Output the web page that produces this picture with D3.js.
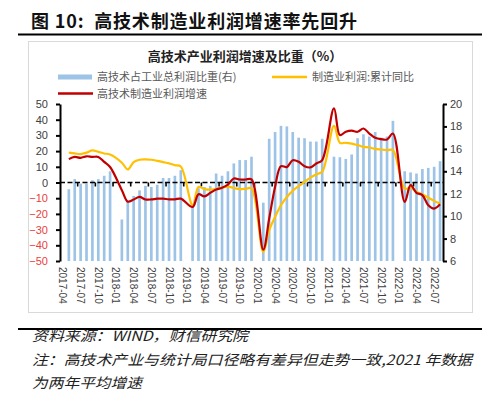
<!DOCTYPE html>
<html>
<head>
<meta charset="utf-8">
<script src="https://cdn.jsdelivr.net/npm/d3@7"></script>
<style>
  body { margin: 0; background: #fff; }
  svg { display: block; }
</style>
</head>
<body>
<svg id="chart" width="500" height="404"></svg>
<script>
// monthly categories, 2017-04 .. 2022-08
const months = [
  "2017-04","2017-05","2017-06","2017-07","2017-08","2017-09","2017-10","2017-11","2017-12",
  "2018-01","2018-02","2018-03","2018-04","2018-05","2018-06","2018-07","2018-08","2018-09","2018-10","2018-11","2018-12",
  "2019-01","2019-02","2019-03","2019-04","2019-05","2019-06","2019-07","2019-08","2019-09","2019-10","2019-11","2019-12",
  "2020-01","2020-02","2020-03","2020-04","2020-05","2020-06","2020-07","2020-08","2020-09","2020-10","2020-11","2020-12",
  "2021-01","2021-02","2021-03","2021-04","2021-05","2021-06","2021-07","2021-08","2021-09","2021-10","2021-11","2021-12",
  "2022-01","2022-02","2022-03","2022-04","2022-05","2022-06","2022-07","2022-08"
];

const tickLabels = [
  "2017-04","2017-07","2017-10","2018-01","2018-04","2018-07","2018-10",
  "2019-01","2019-04","2019-07","2019-10","2020-01","2020-04","2020-07",
  "2020-10","2021-01","2021-04","2021-07","2021-10","2022-01","2022-04","2022-07"
];

// 高技术占工业总利润比重 (right axis, %)
const shareHiTech = [
  null, 12.4, 13.3, 12.9, 12.9, 13.2, 13.3, 13.6, 14.0,
  null, 9.7, 11.4, 11.8, 12.3, 12.7, 12.6, 12.8, 13.4, 13.4, 13.6, 14.1,
  null, 11.0, 12.5, 12.6, 12.7, 13.8, 13.6, 14.0, 14.7, 15.0, 15.0, 15.3,
  null, 11.2, 16.9, 17.5, 18.05, 18.0, 17.5, 17.0, 16.95, 16.65, 16.65, 16.9,
  null, 15.3, 15.25, 15.1, 15.5, 16.95, 17.3, 17.1, 17.5, 17.0, 17.1, 18.5,
  null, 14.0, 13.9, 13.8, 14.2, 14.3, 14.4, 14.9
];

// 制造业利润:累计同比 (left axis, %)
const mfgProfit = [
  null, 19.0, 18.5, 18.1, 19.0, 20.4, 19.5, 18.5, 17.8,
  null, 12.6, 8.3, 13.0, 14.5, 14.7, 14.5, 13.8, 13.0, 12.2, 11.0, 10.2,
  null, -14.5, -2.8, -4.2, -4.5, -4.0, -3.3, -2.6, -3.5, -4.2, -4.0, -3.8,
  null, -44.3, -30.4, -21.9, -14.5, -9.2, -5.3, -2.3, 0.4, 3.1, 5.3, 6.8,
  null, 36.1, 25.3, 25.3, 24.8, 23.8, 22.7, 22.3, 21.4, 21.0, 20.6, 20.6,
  null, -3.9, -3.2, -6.0, -7.5, -9.6, -11.7, -13.4
];

// 高技术制造业利润增速 (left axis, %)
const hiTechProfit = [
  null, 14.9, 16.3, 15.7, 16.7, 16.3, 16.3, 13.1, 9.9,
  null, -4.9, -12.2, -10.8, -9.2, -10.8, -10.8, -10.3, -10.3, -10.7, -10.7, -10.3,
  null, -15.6, -7.5, -8.8, -6.6, -4.5, -3.3, -1.3, 2.5, 1.9, 1.9, 2.0,
  null, -42.8, -23.0, -2.8, 10.4, 9.8, 14.2, 13.2, 10.4, 9.6, 12.1, 14.3,
  null, 47.2, 30.2, 32.3, 33.0, 32.3, 34.4, 31.2, 28.5, 27.6, 27.4, 31.2,
  null, -12.4, -1.7, -6.6, -8.0, -14.5, -16.6, -13.9
];

const leftTicks = [-50, -40, -30, -20, -10, 0, 10, 20, 30, 40, 50];
const rightTicks = [6, 8, 10, 12, 14, 16, 18, 20];

function whenDocumentLoaded(action) {
  if (document.readyState === "loading") {
    document.addEventListener("DOMContentLoaded", action);
  } else {
    action();
  }
}

whenDocumentLoaded(() => {
  const svg = d3.select('#chart');
  const cjk = '"Noto Sans CJK SC", "Noto Sans", sans-serif';
  const latin = '"Liberation Sans", "Noto Sans", sans-serif';

  svg.append('rect').attr('width', 500).attr('height', 404).attr('fill', '#fff');

  // figure heading
  svg.append('text')
     .attr('x', 31).attr('y', 28)
     .attr('textLength', 326).attr('lengthAdjust', 'spacing')
     .style('white-space', 'pre')
     .style('font-family', cjk).style('font-weight', 700).style('font-size', '18px')
     .attr('fill', '#111')
     .text('图 10:  高技术制造业利润增速率先回升');

  svg.append('line').attr('x1', 18).attr('x2', 482).attr('y1', 34.5).attr('y2', 34.5)
     .attr('stroke', '#000').attr('stroke-width', 2);

  // chart frame
  svg.append('rect').attr('x', 28.5).attr('y', 41.5).attr('width', 444).attr('height', 271)
     .attr('fill', 'none').attr('stroke', '#d9d9d9').attr('stroke-width', 1);

  svg.append('text')
     .attr('x', 245).attr('y', 61).attr('text-anchor', 'middle')
     .style('font-family', cjk).style('font-weight', 700).style('font-size', '13px')
     .attr('fill', '#222')
     .text('高技术产业利润增速及比重（%）');

  // legend
  const legend = svg.append('g').style('font-family', cjk).style('font-size', '11px').attr('fill', '#595959');
  legend.append('rect').attr('x', 58).attr('y', 74.5).attr('width', 34).attr('height', 5).attr('fill', '#9dc3e6');
  legend.append('text').attr('x', 97).attr('y', 81).text('高技术占工业总利润比重(右)');
  legend.append('line').attr('x1', 272).attr('x2', 307).attr('y1', 77).attr('y2', 77)
        .attr('stroke', '#ffc000').attr('stroke-width', 2.5);
  legend.append('text').attr('x', 312).attr('y', 81).text('制造业利润:累计同比');
  legend.append('line').attr('x1', 58).attr('x2', 93).attr('y1', 93.5).attr('y2', 93.5)
        .attr('stroke', '#c00000').attr('stroke-width', 2.5);
  legend.append('text').attr('x', 97).attr('y', 97.5).text('高技术制造业利润增速');

  // scales
  const x = d3.scaleBand().domain(months).range([60, 443]).paddingInner(0.55).paddingOuter(0.275);
  const yL = d3.scaleLinear().domain([-50, 50]).range([261, 104]);
  const yR = d3.scaleLinear().domain([6, 20]).range([261, 104]);
  const cx = d => x(d) + x.bandwidth() / 2;

  // bars
  svg.append('g').selectAll('rect')
     .data(months.map((m, i) => ({ m, v: shareHiTech[i] })).filter(d => d.v !== null))
     .enter().append('rect')
     .attr('x', d => x(d.m))
     .attr('width', x.bandwidth())
     .attr('y', d => yR(d.v))
     .attr('height', d => yR(6) - yR(d.v))
     .attr('fill', '#9dc3e6');

  // zero line (category axis)
  svg.append('line').attr('x1', 60).attr('x2', 443).attr('y1', yL(0)).attr('y2', yL(0))
     .attr('stroke', '#000').attr('stroke-width', 1.6).attr('stroke-dasharray', '5,2.5');

  const boundaries = months.map((m, i) => i).filter(i => i > 0 && i % 3 === 0)
                           .map(i => x(months[i]) - x.step() * x.paddingInner() / 2);
  svg.append('g').selectAll('line').data(boundaries).enter().append('line')
     .attr('x1', d => d).attr('x2', d => d)
     .attr('y1', yL(0)).attr('y2', yL(0) + 4)
     .attr('stroke', '#000').attr('stroke-width', 1.6);

  // x labels
  svg.append('g').selectAll('text').data(tickLabels).enter().append('text')
     .attr('transform', d => `translate(${cx(d)},267) rotate(90)`)
     .attr('dy', '0.35em')
     .style('font-family', latin).style('font-size', '10px')
     .attr('fill', '#404040')
     .text(d => d);

  // lines
  const lineGen = scale => d3.line()
    .x(d => cx(d.m))
    .y(d => scale(d.v))
    .curve(d3.curveCatmullRom);

  const series = [
    { values: mfgProfit, color: '#ffc000' },
    { values: hiTechProfit, color: '#c00000' }
  ];
  series.forEach(s => {
    const pts = months.map((m, i) => ({ m, v: s.values[i] })).filter(d => d.v !== null);
    svg.append('path').datum(pts)
       .attr('d', lineGen(yL))
       .attr('fill', 'none')
       .attr('stroke', s.color)
       .attr('stroke-width', 2.2)
       .attr('stroke-linejoin', 'round');
  });

  // left axis
  const axL = svg.append('g').attr('transform', 'translate(60,0)')
     .call(d3.axisLeft(yL).tickValues(leftTicks).tickSize(4).tickSizeOuter(0).tickPadding(8));
  axL.select('.domain').attr('stroke-width', 2);
  axL.selectAll('.tick line').attr('stroke-width', 2);
  axL.selectAll('text')
     .style('font-family', latin).style('font-size', '11px')
     .attr('fill', d => d < 0 ? '#e8413e' : '#404040');

  // right axis
  const axR = svg.append('g').attr('transform', 'translate(443,0)')
     .call(d3.axisRight(yR).tickValues(rightTicks).tickSize(4).tickSizeOuter(0).tickPadding(3));
  axR.select('.domain').attr('stroke-width', 2);
  axR.selectAll('.tick line').attr('stroke-width', 2);
  axR.selectAll('text')
     .style('font-family', latin).style('font-size', '11px')
     .attr('fill', '#404040');

  // bottom rule and notes
  svg.append('line').attr('x1', 18).attr('x2', 482).attr('y1', 329).attr('y2', 329)
     .attr('stroke', '#000').attr('stroke-width', 2);

  const notes = svg.append('g')
     .style('font-family', cjk).style('font-style', 'italic').style('font-size', '14px')
     .attr('fill', '#222');
  notes.append('text').attr('x', 32).attr('y', 341)
       .attr('textLength', 216).attr('lengthAdjust', 'spacingAndGlyphs')
       .text('资料来源：WIND，财信研究院');
  notes.append('text').attr('x', 32).attr('y', 365)
       .attr('textLength', 440).attr('lengthAdjust', 'spacingAndGlyphs')
       .text('注：高技术产业与统计局口径略有差异但走势一致,2021 年数据');
  notes.append('text').attr('x', 32).attr('y', 388)
       .attr('textLength', 110).attr('lengthAdjust', 'spacingAndGlyphs')
       .text('为两年平均增速');
});
</script>
</body>
</html>
